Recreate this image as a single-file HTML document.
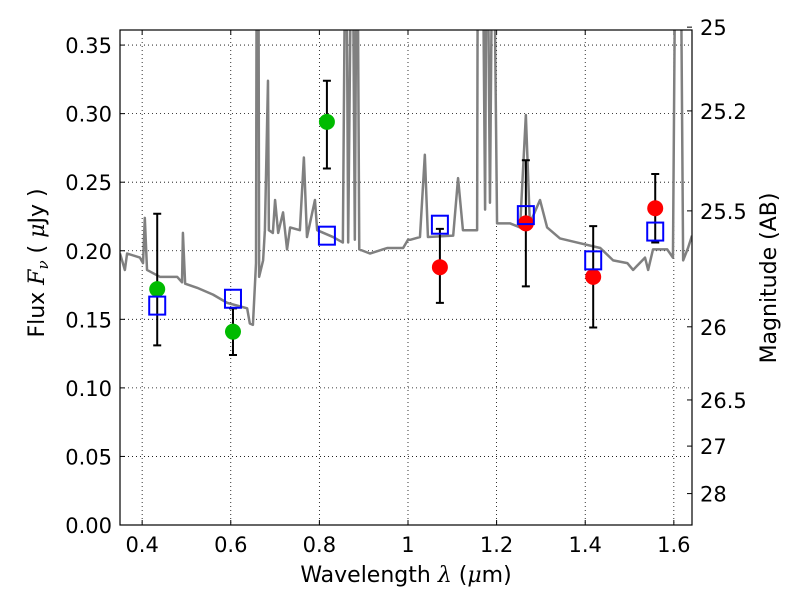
<!DOCTYPE html>
<html><head><meta charset="utf-8"><style>
body{margin:0;background:#fff}
svg text{font-family:"DejaVu Sans","Liberation Sans",sans-serif;fill:#000}
</style></head><body>
<svg id="c" width="800" height="600" xmlns="http://www.w3.org/2000/svg"></svg>
<script>
const specX=[0.350,0.361,0.366,0.395,0.402,0.406,0.411,0.440,0.479,0.490,0.492,0.497,0.524,0.560,0.592,0.637,0.643,0.650,0.657,0.659,0.662,0.664,0.673,0.677,0.684,0.686,0.695,0.700,0.707,0.718,0.727,0.734,0.756,0.765,0.772,0.790,0.795,0.831,0.853,0.860,0.865,0.874,0.880,0.885,0.890,0.914,0.953,0.989,1.000,1.005,1.027,1.038,1.045,1.102,1.113,1.124,1.156,1.158,1.167,1.174,1.178,1.185,1.192,1.201,1.230,1.253,1.266,1.275,1.298,1.314,1.343,1.382,1.434,1.463,1.495,1.508,1.535,1.542,1.553,1.585,1.598,1.605,1.614,1.621,1.632,1.641];
const specF=[0.198,0.186,0.198,0.195,0.191,0.224,0.186,0.181,0.181,0.177,0.213,0.176,0.173,0.168,0.162,0.158,0.147,0.146,0.191,0.5,0.5,0.181,0.193,0.215,0.324,0.215,0.213,0.237,0.213,0.228,0.201,0.217,0.215,0.268,0.210,0.237,0.215,0.210,0.206,0.5,0.206,0.5,0.208,0.5,0.201,0.198,0.202,0.202,0.208,0.208,0.210,0.270,0.210,0.211,0.253,0.215,0.215,0.5,0.5,0.230,0.5,0.235,0.5,0.220,0.220,0.217,0.299,0.220,0.237,0.217,0.209,0.206,0.202,0.193,0.191,0.186,0.195,0.186,0.201,0.201,0.195,0.5,0.5,0.193,0.202,0.211];
const obsX=[0.434,0.605,0.817,1.072,1.266,1.418,1.558];
const obsF=[0.172,0.141,0.294,0.188,0.220,0.181,0.231];
const obsLo=[0.131,0.124,0.260,0.162,0.174,0.144,0.206];
const obsHi=[0.227,0.158,0.324,0.216,0.266,0.218,0.256];
const obsColor=["#00bb00","#00bb00","#00bb00","#ff0000","#ff0000","#ff0000","#ff0000"];
const modelF=[0.160,0.165,0.211,0.219,0.226,0.193,0.214];
const xTicks=[0.4,0.6,0.8,1.0,1.2,1.4,1.6];
const xTickLabels=["0.4","0.6","0.8","1","1.2","1.4","1.6"];
const yTicks=[0,0.05,0.1,0.15,0.2,0.25,0.3,0.35];
const magTicks=[25,25.2,25.5,26,26.5,27,28];
const magLabels=["25","25.2","25.5","26","26.5","27","28"];
const L=120,R=692,T=30,B=525,X0=0.35,X1=1.641,Y0=0,Y1=0.361;
const sx=v=>L+(v-X0)/(X1-X0)*(R-L);
const sy=v=>B-(v-Y0)/(Y1-Y0)*(B-T);
const svg=document.getElementById('c');const NS='http://www.w3.org/2000/svg';
function mk(t,a,p){const e=document.createElementNS(NS,t);for(const k in a)e.setAttribute(k,a[k]);(p||svg).appendChild(e);return e;}
const defs=mk('defs',{});const cp=mk('clipPath',{id:'clip'},defs);mk('rect',{x:L,y:T,width:R-L,height:B-T},cp);
xTicks.forEach((v,i)=>{const g=mk('line',{x1:sx(v),x2:sx(v),y1:T,y2:B,stroke:'#000','stroke-width':0.8,'stroke-dasharray':'1,3'});

mk('line',{x1:sx(v),x2:sx(v),y1:B,y2:B-5,stroke:'#000'});mk('line',{x1:sx(v),x2:sx(v),y1:T,y2:T+5,stroke:'#000'});
const t=mk('text',{x:sx(v),y:B+27,'text-anchor':'middle','font-size':21});t.textContent=xTickLabels[i];
});
yTicks.forEach(v=>{const g=mk('line',{x1:L,x2:R,y1:sy(v),y2:sy(v),stroke:'#000','stroke-width':0.8,'stroke-dasharray':'1,3'});

mk('line',{x1:L,x2:L+5,y1:sy(v),y2:sy(v),stroke:'#000'});
const t=mk('text',{x:L-8,y:sy(v)+8,'text-anchor':'end','font-size':21});t.textContent=v.toFixed(2);
});
magTicks.forEach((m,i)=>{const f=Math.pow(10,(23.9-m)/2.5);const y=sy(f);
mk('line',{x1:R-5,x2:R,y1:y,y2:y,stroke:'#000'});
const t=mk('text',{x:R+8,y:y+8,'font-size':21});t.textContent=magLabels[i];
});
const g=mk('g',{'clip-path':'url(#clip)'});
const sp=mk('polyline',{points:specX.map((x,i)=>sx(x)+','+sy(specF[i])).join(' '),fill:'none',stroke:'#808080','stroke-width':2.5,'stroke-linejoin':'round'},g);

obsX.forEach((x,i)=>{const X=sx(x);
const e=mk('path',{d:`M${X},${sy(obsLo[i])}V${sy(obsHi[i])}M${X-4},${sy(obsLo[i])}h8M${X-4},${sy(obsHi[i])}h8`,stroke:'#000','stroke-width':2,fill:'none'},g);

const c=mk('circle',{cx:X,cy:sy(obsF[i]),r:8,fill:obsColor[i]},g);

const s=mk('rect',{x:X-8,y:sy(modelF[i])-9,width:16,height:18,fill:'none',stroke:'#0000ff','stroke-width':2},g);
});
const f=mk('rect',{x:L,y:T,width:R-L,height:B-T,fill:'none',stroke:'#000','stroke-width':1.2});

const xt=mk('text',{x:406,y:582,'text-anchor':'middle','font-size':22});xt.innerHTML='Wavelength  <tspan font-style="italic" font-family="DejaVu Serif,serif">λ</tspan> (<tspan font-style="italic" font-family="DejaVu Serif,serif">μ</tspan>m)';

const yt=mk('text',{x:0,y:0,'text-anchor':'middle','font-size':22,transform:'translate(44,263) rotate(-90)'});yt.innerHTML='Flux  <tspan font-style="italic" font-family="DejaVu Serif,serif">F<tspan font-size="15" dy="4">ν</tspan></tspan><tspan dy="-4">  ( </tspan><tspan font-style="italic" font-family="DejaVu Serif,serif">μ</tspan>Jy )';

const rt=mk('text',{x:0,y:0,'text-anchor':'middle','font-size':22,transform:'translate(776,278) rotate(-90)'});rt.textContent='Magnitude (AB)';

</script>
</body></html>
